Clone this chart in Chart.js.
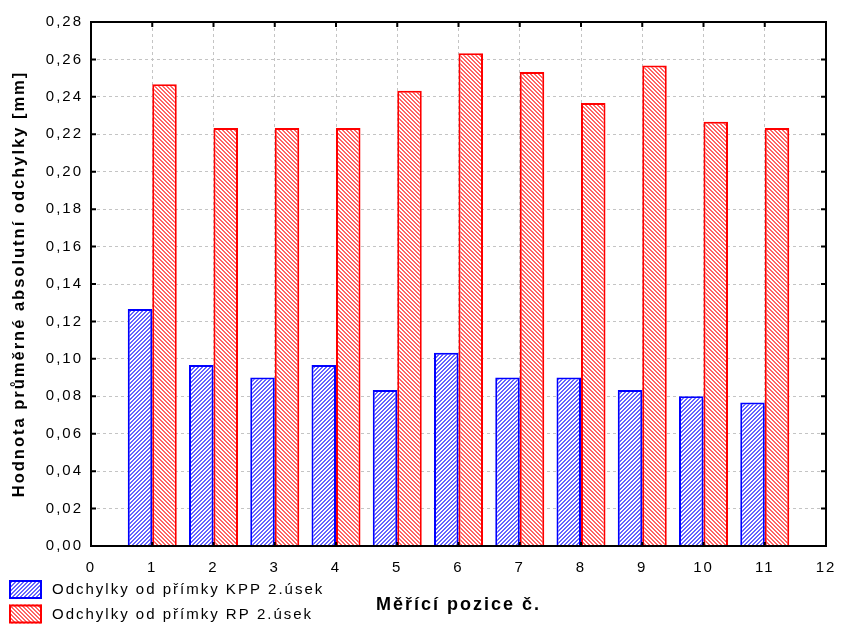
<!DOCTYPE html>
<html lang="cs">
<head>
<meta charset="UTF-8">
<title>Odchylky od přímky</title>
<script src="https://cdn.jsdelivr.net/npm/chart.js@4/dist/chart.umd.min.js"></script>
<style>
  html, body { margin: 0; padding: 0; background: #fff; }
  canvas { display: block; }
</style>
</head>
<body>
<canvas id="chart" width="842" height="624"></canvas>
<script>
const positions = [1, 2, 3, 4, 5, 6, 7, 8, 9, 10, 11];
const kppValues = [0.1267, 0.0967, 0.0900, 0.0967, 0.0833, 0.1033, 0.0900, 0.0900, 0.0833, 0.0800, 0.0767];
const rpValues  = [0.2467, 0.2233, 0.2233, 0.2233, 0.2433, 0.2633, 0.2533, 0.2367, 0.2567, 0.2267, 0.2233];
const seriesLabels = ['Odchylky od přímky KPP 2.úsek', 'Odchylky od přímky RP 2.úsek'];
const xRange = [0, 12];
const yRange = [0, 0.28];
const yStep = 0.02;

const FONT = '"Liberation Sans", Arial, sans-serif';
const canvas = document.getElementById('chart');

// fine diagonal hatch like the original plot (2px lines, period 4)
function hatch(color, rising) {
    const c = document.createElement('canvas');
    c.width = 4; c.height = 4;
    const g = c.getContext('2d');
    g.fillStyle = '#fff';
    g.fillRect(0, 0, 4, 4);
    g.fillStyle = color;
    for (let y = 0; y < 4; y++) {
        for (let x = 0; x < 4; x++) {
            const k = rising ? (x + y) % 4 : (x - y + 4) % 4;
            if (k < 2) g.fillRect(x, y, 1, 1);
        }
    }
    return canvas.getContext('2d').createPattern(c, 'repeat');
}

// wider text spacing, the source renders letters spread out
const spacing = {
    id: 'spacing',
    beforeLayout(chart) { chart.ctx.letterSpacing = '2px'; },
    beforeDraw(chart) { chart.ctx.letterSpacing = '2px'; }
};

// box frame with inward tick marks on all four sides
const frame = {
    id: 'frame',
    afterDatasetsDraw(chart) {
        const { ctx, chartArea: a, scales: { x, y } } = chart;
        ctx.save();
        ctx.setLineDash([]);
        ctx.strokeStyle = '#000';
        ctx.lineWidth = 2;
        ctx.strokeRect(a.left, a.top, a.right - a.left, a.bottom - a.top);
        ctx.beginPath();
        y.ticks.forEach(t => {
            const p = y.getPixelForValue(t.value);
            ctx.moveTo(a.left, p); ctx.lineTo(a.left + 5, p);
            ctx.moveTo(a.right - 5, p); ctx.lineTo(a.right, p);
        });
        x.ticks.forEach(t => {
            const p = x.getPixelForValue(t.value);
            ctx.moveTo(p, a.top); ctx.lineTo(p, a.top + 5);
            ctx.moveTo(p, a.bottom - 4); ctx.lineTo(p, a.bottom);
        });
        ctx.stroke();
        ctx.restore();
    }
};

// legend stacked in the bottom-left corner
const legendRows = {
    id: 'legendRows',
    afterDraw(chart) {
        const ctx = chart.ctx;
        ctx.save();
        ctx.letterSpacing = '2px';
        chart.data.datasets.forEach((ds, i) => {
            const top = 580 + i * 24.5;
            ctx.fillStyle = ds.backgroundColor;
            ctx.fillRect(9, top, 33, 19);
            ctx.lineWidth = 2;
            ctx.strokeStyle = ds.borderColor;
            ctx.strokeRect(10, top + 1, 31, 17);
            ctx.fillStyle = '#000';
            ctx.font = '15px ' + FONT;
            ctx.textBaseline = 'middle';
            ctx.textAlign = 'left';
            ctx.fillText(ds.label, 52, top + 10);
        });
        ctx.restore();
    }
};

Chart.defaults.font.family = FONT;
Chart.defaults.font.size = 15;
Chart.defaults.color = '#000';

new Chart(canvas.getContext('2d'), {
    type: 'bar',
    data: {
        datasets: [
            {
                label: seriesLabels[0],
                data: positions.map((p, i) => ({ x: p, y: kppValues[i] })),
                backgroundColor: hatch('#6464ff', true),
                borderColor: '#0000ff',
                borderWidth: 2
            },
            {
                label: seriesLabels[1],
                data: positions.map((p, i) => ({ x: p, y: rpValues[i] })),
                backgroundColor: hatch('#ff6464', false),
                borderColor: '#ff0000',
                borderWidth: 2
            }
        ]
    },
    options: {
        responsive: false,
        animation: false,
        categoryPercentage: 0.8,
        barPercentage: 1.0,
        layout: { padding: { top: 22, right: 16, left: 0, bottom: 0 } },
        plugins: {
            legend: { display: false },
            tooltip: { enabled: false }
        },
        scales: {
            x: {
                type: 'linear',
                min: xRange[0],
                max: xRange[1],
                offset: false,
                ticks: { stepSize: 1, padding: 13, maxRotation: 0 },
                grid: { offset: false, color: '#c4c4c4', drawTicks: false },
                border: { display: false, dash: [3, 3] },
                title: {
                    display: true,
                    text: 'Měřící pozice č.',
                    font: { size: 18, weight: 'bold' },
                    padding: { top: 0, bottom: 8 }
                },
                afterFit(s) { s.height = 78; s.paddingRight = 0; s.paddingLeft = 0; }
            },
            y: {
                min: yRange[0],
                max: yRange[1],
                ticks: {
                    stepSize: yStep,
                    padding: 8,
                    callback: v => v.toFixed(2).replace('.', ',')
                },
                grid: { color: '#c4c4c4', drawTicks: false },
                border: { display: false, dash: [3, 3] },
                title: {
                    display: true,
                    text: 'Hodnota průměrné absolutní odchylky [mm]',
                    font: { size: 16.5, weight: 'bold' },
                    padding: { top: 10, bottom: 0 }
                },
                afterFit(s) { s.width = 91; }
            }
        }
    },
    plugins: [spacing, frame, legendRows]
});
</script>
</body>
</html>
